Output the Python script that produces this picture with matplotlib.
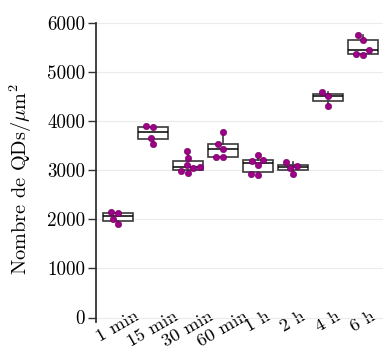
import matplotlib
matplotlib.use('Agg')
import matplotlib.pyplot as plt
import seaborn as sns
import pandas as pd

conditions = ['1 min', '15 min', '30 min', '60 min', '1 h', '2 h', '4 h', '6 h']
v_1min = [1900, 2003, 2130, 2145]
v_15min = [3532, 3667, 3885, 3911]
v_30min = [2940, 2990, 3040, 3070, 3110, 3260, 3400]
v_60min = [3267, 3267, 3443, 3538, 3790]
v_1h = [2910, 2930, 3120, 3200, 3220, 3310]
v_2h = [2920, 3050, 3096, 3171]
v_4h = [4315, 4524, 4592]
v_6h = [5360, 5370, 5447, 5666, 5768]

yticks = [0, 1000, 2000, 3000, 4000, 5000, 6000]

all_values = [v_1min, v_15min, v_30min, v_60min, v_1h, v_2h, v_4h, v_6h]

plt.rcParams['font.family'] = ['cmr10', 'DejaVu Serif']
plt.rcParams['mathtext.fontset'] = 'cm'
plt.rcParams['axes.unicode_minus'] = False

df = pd.DataFrame({
    'cond': [c for c, vals in zip(conditions, all_values) for _ in vals],
    'val': [v for vals in all_values for v in vals],
})

fig = plt.figure(figsize=(3.83, 3.53), dpi=100)
ax = fig.add_axes([0.2507, 0.088, 0.7493, 0.846])
ax.set_xlim(-0.63, 7.57)
ax.set_ylim(-90, 6000)

edge = '#3a3a3a'
ax.boxplot(all_values, positions=range(len(conditions)), widths=0.88,
           patch_artist=True, showcaps=False, showfliers=False,
           boxprops=dict(facecolor='white', edgecolor=edge, linewidth=1.2),
           medianprops=dict(color='black', linewidth=1.1),
           whiskerprops=dict(color=edge, linewidth=1.2),
           zorder=2)

sns.swarmplot(data=df, x='cond', y='val', order=conditions, ax=ax,
              color='#9e0088', size=4.6, edgecolor='#6a005a', linewidth=0.4,
              zorder=3)

ax.set_xlim(-0.63, 7.57)
ax.set_ylim(-90, 6000)
ax.set_xticks(range(len(conditions)))
ax.set_xticklabels(conditions, rotation=30, fontsize=13.4)
ax.set_yticks(yticks)
ax.set_yticklabels([str(t) for t in yticks], fontsize=13.7)
ax.set_xlabel('')
ax.set_ylabel(r'Nombre de QDs/$\mu$m$^2$', fontsize=14.6)
ax.yaxis.set_label_coords(-0.215, 0.48)

ax.grid(axis='y', color='#ebebeb', linewidth=0.8, zorder=0)
ax.set_axisbelow(True)
for s in ['top', 'right', 'bottom']:
    ax.spines[s].set_visible(False)
ax.spines['left'].set_color('#333333')
ax.spines['left'].set_linewidth(1.3)
ax.tick_params(axis='x', length=0, pad=-10)
ax.tick_params(axis='y', length=6, width=1.0, color='#333333', pad=2)

fig.savefig('out.png', dpi=100)
